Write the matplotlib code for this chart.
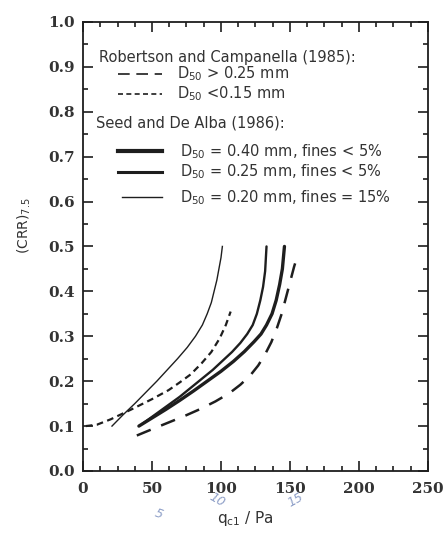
import matplotlib
matplotlib.use("Agg")
import matplotlib.pyplot as plt
from matplotlib.ticker import MultipleLocator, FormatStrFormatter

plt.rcParams['mathtext.default'] = 'regular'

# Robertson and Campanella (1985)
rc_coarse_x = [39, 50, 62, 74, 85, 96, 106, 114, 121, 127, 132, 136.5, 140.5, 144, 147, 150, 153, 155.5]
rc_coarse_y = [0.079, 0.093, 0.108, 0.123, 0.138, 0.155, 0.173, 0.192, 0.212, 0.235, 0.260, 0.287,
               0.318, 0.350, 0.385, 0.420, 0.455, 0.480]
rc_fine_x = [2, 10, 20, 35, 50, 62, 70, 78, 86, 93, 99, 103.5, 107]
rc_fine_y = [0.100, 0.103, 0.115, 0.137, 0.160, 0.180, 0.197, 0.215, 0.240, 0.265, 0.295, 0.325, 0.355]

# Seed and De Alba (1986)
sd40_x = [40.5, 50, 60, 70, 80, 90, 100, 109, 117, 124, 129, 133, 137, 140, 142.5, 144.5, 146]
sd40_y = [0.100, 0.118, 0.137, 0.157, 0.178, 0.200, 0.222, 0.244, 0.266, 0.288, 0.305, 0.325,
          0.350, 0.380, 0.415, 0.450, 0.500]
sd25_x = [43, 52, 61, 70, 78, 86, 94, 101, 108, 114, 119, 123, 126, 128.5, 130.5, 132, 133]
sd25_y = [0.105, 0.125, 0.145, 0.165, 0.185, 0.205, 0.225, 0.245, 0.265, 0.285, 0.305, 0.325,
          0.350, 0.380, 0.410, 0.445, 0.500]
sd20_x = [21, 29, 37.5, 45.5, 53.5, 61, 68.5, 75.5, 81.5, 86.5, 90, 93, 95, 97, 98.5, 100, 101]
sd20_y = [0.100, 0.125, 0.150, 0.175, 0.200, 0.225, 0.250, 0.275, 0.300, 0.325, 0.350, 0.375,
          0.400, 0.425, 0.450, 0.475, 0.500]

ink = '#1e1e1e'

fig = plt.figure(figsize=(4.43, 5.34), dpi=100)
ax = fig.add_axes([0.1874, 0.118, 0.7786, 0.841])

ax.plot(rc_coarse_x, rc_coarse_y, color=ink, lw=1.8, dashes=(6, 4.5))
ax.plot(rc_fine_x, rc_fine_y, color=ink, lw=1.6, dashes=(3, 2))
ax.plot(sd40_x, sd40_y, color=ink, lw=2.4, solid_capstyle='round')
ax.plot(sd25_x, sd25_y, color=ink, lw=1.7, solid_capstyle='round')
ax.plot(sd20_x, sd20_y, color=ink, lw=1.0)

ax.set_xlim(0, 250)
ax.set_ylim(0, 1.0)
ax.xaxis.set_major_locator(MultipleLocator(50))
ax.xaxis.set_minor_locator(MultipleLocator(12.5))
ax.yaxis.set_major_locator(MultipleLocator(0.1))
ax.yaxis.set_minor_locator(MultipleLocator(0.05))
ax.yaxis.set_major_formatter(FormatStrFormatter('%.1f'))
ax.tick_params(which='both', direction='in', top=True, right=True, color=ink, width=1.2)
ax.tick_params(which='major', length=7, pad=6)
ax.tick_params(axis='x', which='major', pad=8)
ax.tick_params(which='minor', length=3.5)
for lab in ax.get_xticklabels() + ax.get_yticklabels():
    lab.set_family('DejaVu Serif')
    lab.set_fontweight('bold')
    lab.set_fontsize(11)
    lab.set_color('#333333')
for s in ax.spines.values():
    s.set_linewidth(1.3)
    s.set_color(ink)

# legend drawn as text and sample lines
tx = dict(fontsize=10.5, family='DejaVu Sans', color='#333333', va='center')
ax.text(11.7, 0.921, 'Robertson and Campanella (1985):', **tx)
ax.plot([25, 57], [0.885, 0.885], color=ink, lw=1.2, dashes=(7, 4))
ax.text(68, 0.885, 'D$_{50}$ > 0.25 mm', **tx)
ax.plot([25, 57], [0.840, 0.840], color=ink, lw=1.2, dashes=(3, 2))
ax.text(68, 0.840, 'D$_{50}$ <0.15 mm', **tx)
ax.text(9.5, 0.774, 'Seed and De Alba (1986):', **tx)
ax.plot([25, 57], [0.712, 0.712], color=ink, lw=3.0)
ax.text(70, 0.712, 'D$_{50}$ = 0.40 mm, fines < 5%', **tx)
ax.plot([25, 57], [0.666, 0.666], color=ink, lw=2.2)
ax.text(70, 0.666, 'D$_{50}$ = 0.25 mm, fines < 5%', **tx)
ax.plot([28, 57], [0.609, 0.609], color=ink, lw=1.0)
ax.text(70, 0.609, 'D$_{50}$ = 0.20 mm, fines = 15%', **tx)

ax.text(-0.17, 0.546, '(CRR)$_{7.5}$', transform=ax.transAxes, rotation=90,
        ha='center', va='center', fontsize=10, family='DejaVu Sans', color='#333333')
ax.text(0.47, -0.105, 'q$_{c1}$ / Pa', transform=ax.transAxes,
        ha='center', va='center', fontsize=11, family='DejaVu Sans', color='#333333')

# handwritten pencil notes below the axis
hw = dict(transform=ax.transAxes, fontsize=9, color='#8fa0c8', style='italic', ha='center', va='center')
ax.text(0.22, -0.095, '5', rotation=-20, **hw)
ax.text(0.39, -0.065, '10', rotation=-30, **hw)
ax.text(0.615, -0.065, '15', rotation=30, **hw)

fig.savefig('out.png', dpi=100)
